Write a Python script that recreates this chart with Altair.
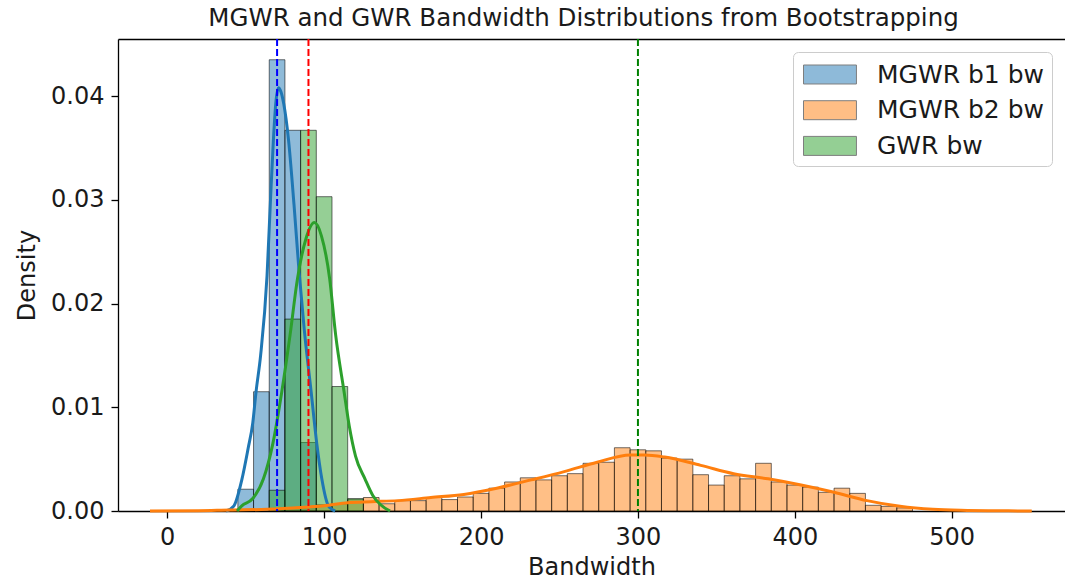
import altair as alt
import pandas as pd

# ---------------- data ----------------
SERIES = ["MGWR b1 bw", "MGWR b2 bw", "GWR bw"]
COLORS = ["#1f77b4", "#ff7f0e", "#2ca02c"]

BIN_WIDTH = 10

# histogram densities (left edge of first bin, then one value per bin)
b1_first_edge = 45
b1_density = [0.0021, 0.0115, 0.0435, 0.0367, 0.0066]

b2_first_edge = 65
b2_density = [0.0002, 0.0003, 0.0004, 0.0006, 0.0007,
              0.0011, 0.0013, 0.0007, 0.0010, 0.0010, 0.0013, 0.0011, 0.00135,
              0.0017, 0.0022, 0.0028, 0.0032, 0.0030, 0.0034, 0.0036, 0.0046,
              0.0047, 0.0061, 0.0059, 0.0058, 0.0051, 0.0050, 0.0035, 0.0025,
              0.0034, 0.0031, 0.0046, 0.0028, 0.0025, 0.0023, 0.0018, 0.0022,
              0.0017, 0.00055, 0.00045, 0.0003]

gwr_first_edge = 65
gwr_density = [0.0020, 0.0185, 0.0367, 0.0303, 0.0120, 0.0012]

# KDE curves
b1_kde_x = [37.5, 42.5, 47.5, 51.5, 54.5, 56.6, 59.5, 63.6, 65.8, 67.7, 69.3, 70.8,
            72.5, 74.3, 77.2, 80.8, 84.0, 87.3, 91.7, 95.3, 98.5, 102.7, 107.0]
b1_kde_y = [0.0, 0.0005, 0.0030, 0.0060, 0.0085, 0.0115, 0.0150, 0.0227, 0.0300, 0.0359,
            0.0395, 0.0408, 0.0404, 0.0392, 0.0359, 0.0295, 0.0231, 0.0175, 0.0115,
            0.0065, 0.0031, 0.0005, 0.0]

gwr_kde_x = [44.5, 47.5, 54.5, 61.3, 67.3, 73.0, 78.3, 83.0, 88.3, 93.8, 98.3, 103.5,
             107.3, 112.7, 116.0, 120.0, 126.0, 131.0, 136.0, 142.0]
gwr_kde_y = [0.0, 0.0005, 0.0012, 0.0031, 0.0065, 0.0115, 0.0170, 0.0224, 0.0262, 0.0278,
             0.0265, 0.0224, 0.0170, 0.0115, 0.0082, 0.0053, 0.0031, 0.0015, 0.0006, 0.0]

b2_kde_x = [-11, 20, 40, 60, 80, 100, 115, 130, 147, 168, 189, 210, 232, 253, 274, 295,
            304, 317, 340, 361, 383, 404, 425, 446, 467, 488, 510, 530, 551]
b2_kde_y = [0.0, 0.00003, 0.0001, 0.00015, 0.0003, 0.0005, 0.0008, 0.0009, 0.0010, 0.0013,
            0.0016, 0.0022, 0.0030, 0.0038, 0.0047, 0.0054, 0.0054, 0.0052, 0.0044, 0.0036,
            0.0031, 0.0025, 0.0018, 0.0010, 0.00045, 0.00016, 0.00006, 0.00002, 0.0]

# reference (dashed) lines
ref_values = [70, 90, 300]
ref_colors = ["#0000ff", "#ff0000", "#008000"]

TITLE = "MGWR and GWR Bandwidth Distributions from Bootstrapping"
x_ticks = [0, 100, 200, 300, 400, 500]
y_ticks = [0.0, 0.01, 0.02, 0.03, 0.04]

# ---------------- build tables ----------------
rows = []
for name, first, dens in [(SERIES[0], b1_first_edge, b1_density),
                          (SERIES[1], b2_first_edge, b2_density),
                          (SERIES[2], gwr_first_edge, gwr_density)]:
    for i, d in enumerate(dens):
        rows.append({"series": name, "x": first + i * BIN_WIDTH,
                     "x_end": first + (i + 1) * BIN_WIDTH, "density": d})
bars_df = pd.DataFrame(rows)

FONT = "DejaVu Sans"
TXT = "#1a1a1a"

xscale = alt.Scale(domain=[-31.4, 572.2], nice=False, zero=False)
yscale = alt.Scale(domain=[0, 0.0455], nice=False, zero=False)

xaxis = alt.Axis(orient="bottom", values=x_ticks, format="d", labelFontSize=24, labelFont=FONT,
                 labelColor=TXT, tickSize=7, tickWidth=1.3, tickColor="black",
                 domainColor="black", domainWidth=1.3, labelPadding=7,
                 titleFontSize=24, titleFont=FONT, titleFontWeight="normal",
                 titleColor=TXT, titlePadding=6, grid=False, labelFlush=False,
                 labelOverlap=False)
yaxis = alt.Axis(values=y_ticks, format=".2f", labelFontSize=24, labelFont=FONT,
                 labelColor=TXT, tickSize=7, tickWidth=1.3, tickColor="black",
                 domainColor="black", domainWidth=1.3, labelPadding=7,
                 titleFontSize=24, titleFont=FONT, titleFontWeight="normal",
                 titleColor=TXT, titlePadding=11, grid=False, labelFlush=False,
                 labelOverlap=False)
top_axis = alt.Axis(orient="top", labels=False, ticks=False, domain=True, grid=False,
                    title=None, domainColor="black", domainWidth=1.3)

legend = alt.Legend(title=None, orient="none", legendX=675, legendY=13,
                    symbolType="M-0.8,-0.633L2.73,-0.633L2.73,0.633L-0.8,0.633Z",
                    symbolSize=900, symbolOpacity=0.5, symbolStrokeColor="black",
                    symbolStrokeWidth=1, labelFontSize=25, labelFont=FONT,
                    labelColor=TXT, labelOffset=46, labelLimit=500, padding=7,
                    fillColor="rgba(255,255,255,0.8)", strokeColor="#cccccc",
                    cornerRadius=5, rowPadding=6.7)

bars = alt.Chart(bars_df).mark_rect(fillOpacity=0.5, stroke="black", strokeOpacity=0.55,
                                    strokeWidth=1).encode(
    x=alt.X("x:Q", scale=xscale, axis=xaxis, title="Bandwidth"),
    x2="x_end:Q",
    y=alt.Y("density:Q", scale=yscale, axis=yaxis, title="Density"),
    y2=alt.datum(0),
    fill=alt.Fill("series:N", scale=alt.Scale(domain=SERIES, range=COLORS), legend=legend),
)

layers = [bars]
for name, xs, ys, col in [(SERIES[0], b1_kde_x, b1_kde_y, COLORS[0]),
                          (SERIES[1], b2_kde_x, b2_kde_y, COLORS[1]),
                          (SERIES[2], gwr_kde_x, gwr_kde_y, COLORS[2])]:
    df = pd.DataFrame({"x": xs, "density": ys})
    layers.append(alt.Chart(df).mark_line(color=col, strokeWidth=3, interpolate="monotone").encode(
        x=alt.X("x:Q", scale=xscale, axis=None),
        y=alt.Y("density:Q", scale=yscale, axis=yaxis, title="Density"),
    ))

for i, (v, col) in enumerate(zip(ref_values, ref_colors)):
    df = pd.DataFrame({"x": [v]})
    layers.append(alt.Chart(df).mark_rule(color=col, strokeWidth=2, strokeDash=[7, 3]).encode(
        x=alt.X("x:Q", scale=xscale, axis=top_axis if i == 0 else None),
    ))

chart = alt.layer(*layers).resolve_axis(x="independent").properties(
    width=947, height=472,
    padding={"left": 118, "top": 39, "right": 0, "bottom": 69},
    autosize=alt.AutoSizeParams(type="none"),
    title=alt.Title(TITLE, fontSize=24.5, font=FONT, fontWeight="normal", color=TXT,
                    anchor="middle", frame="group", offset=7, dx=-8),
).configure_view(stroke=None)

chart.save("out.html", embed_options={"renderer": "svg", "actions": False})
